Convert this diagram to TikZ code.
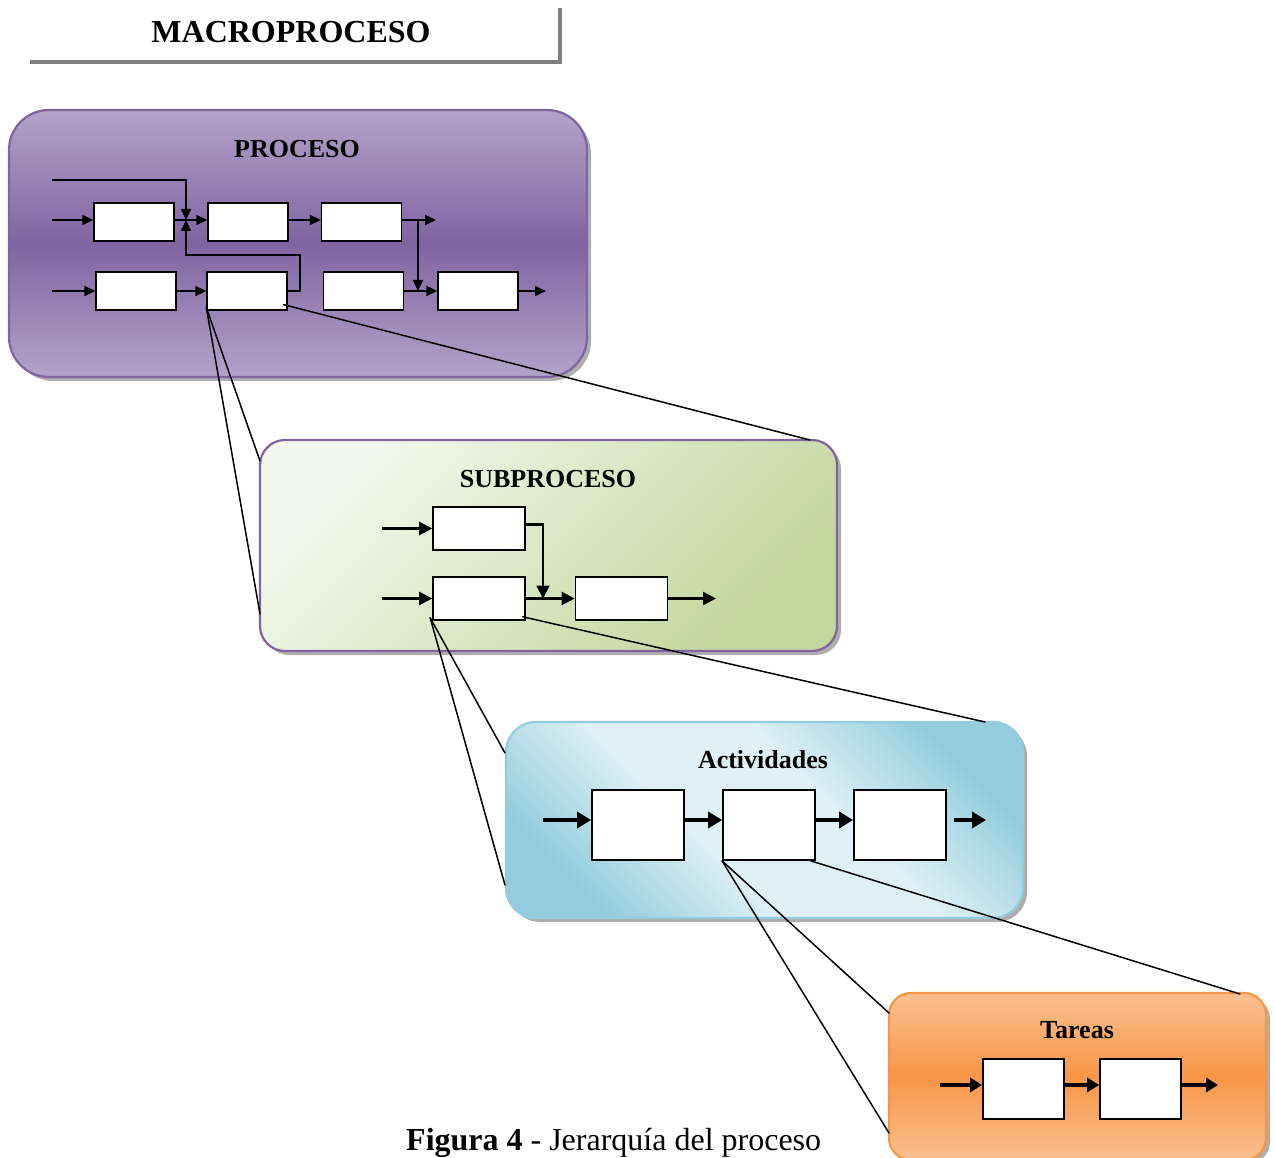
\documentclass[tikz,border=0pt]{standalone}
\usepackage{fontspec}
\setmainfont{Liberation Serif}
\usetikzlibrary{arrows.meta,shadows}

\definecolor{procdark}{HTML}{8064A2}
\definecolor{proclight}{HTML}{B3A3C9}
\definecolor{subtl}{HTML}{F4F7EE}
\definecolor{subbr}{HTML}{C3D69B}
\definecolor{actlight}{HTML}{DEF0F5}
\definecolor{actdark}{HTML}{93CDDD}
\definecolor{tarlight}{HTML}{FAC090}
\definecolor{tardark}{HTML}{F79646}
\definecolor{hdrgray}{HTML}{808080}

% broad light band across the activity panel
\pgfdeclareverticalshading{actshade}{100bp}{color(0bp)=(actdark); color(25bp)=(actdark);
  color(42bp)=(actlight); color(58bp)=(actlight); color(75bp)=(actdark); color(100bp)=(actdark)}

\begin{document}
\begin{tikzpicture}[x=1pt,y=-1pt,
  container/.style={line width=2.2pt, inner sep=0pt,
    drop shadow={shadow xshift=4pt,shadow yshift=-4pt,fill=black!45,opacity=0.7}},
  bigtitle/.style={font=\fontsize{32}{38}\selectfont\bfseries, inner sep=0pt},
  boxtitle/.style={font=\fontsize{26}{31}\selectfont\bfseries, inner sep=0pt},
  wbox/.style={draw=black, fill=white, inner sep=0pt},
  pbox/.style={wbox, line width=1.3pt, minimum width=80pt, minimum height=38pt},
  sbox/.style={wbox, line width=1.6pt, minimum width=92pt, minimum height=43pt},
  abox/.style={wbox, line width=1.8pt, minimum width=92pt, minimum height=70pt},
  tbox/.style={wbox, line width=1.8pt, minimum width=81pt, minimum height=60pt},
  parr/.style={line width=1.7pt, -{Triangle[length=11pt,width=10pt]}},
  sarr/.style={line width=2.4pt, -{Triangle[length=13pt,width=13pt]}},
  aarr/.style={line width=3.6pt, -{Triangle[length=14pt,width=16pt]}},
  tarr/.style={line width=3.2pt, -{Triangle[length=12pt,width=14pt]}},
  conn/.style={line width=1.5pt, line cap=round}
]
\useasboundingbox (0,0) rectangle (1275,1158);

% ---------- header ----------
\node[bigtitle, anchor=base] (macro) at (291,43) {MACROPROCESO};
\draw[hdrgray, line width=4pt] (30,62) -- (560,62) -- (560,8);

% ---------- process level ----------
\node[container, shade, rounded corners=40pt, draw=procdark,
      top color=proclight, bottom color=proclight, middle color=procdark,
      minimum width=578pt, minimum height=267pt] (proc) at (298,243.5) {};
\node[boxtitle, anchor=base] (proctitle) at (297,158) {PROCESO};

\node[pbox] (A) at (134,222) {};
\node[pbox] (B) at (248,222) {};
\node[pbox] (C) at (361.5,222) {};
\node[pbox] (D) at (136,291) {};
\node[pbox] (E) at (247,291) {};
\node[pbox] (F) at (363.5,291) {};
\node[pbox] (G) at (478,291) {};

\coordinate (inA) at (52,220);
\coordinate (inTop) at (52,180);
\coordinate (J) at (186,220);
\coordinate (loop) at (300,255);
\coordinate (outC) at (436,220);
\coordinate (V1) at (418,220);
\coordinate (V2) at (418,291);
\coordinate (inD) at (52,291);
\coordinate (outG) at (546,291);

\draw[parr] (inA) -- (A.west |- inA);
\draw[parr] (A.east |- J) -- (B.west |- J);
\draw[parr] (inTop) -| (J);
\draw[parr] (E.east) -| (loop) -| (J);
\draw[parr] (B.east |- J) -- (C.west |- J);
\draw[parr] (C.east |- outC) -- (outC);
\draw[parr] (V1) -- (V2);
\draw[parr] (inD) -- (D.west);
\draw[parr] (D.east) -- (E.west);
\draw[parr] (F.east) -- (G.west);
\draw[parr] (G.east) -- (outG);

% ---------- subprocess level ----------
\node[container, shade, rounded corners=25pt, draw=procdark,
      top color=subtl, bottom color=subbr, shading angle=45,
      minimum width=577pt, minimum height=211pt] (sub) at (548.5,545.5) {};
\node[boxtitle, anchor=base] (subtitle) at (548,487) {SUBPROCESO};

\node[sbox] (H) at (479,528.5) {};
\node[sbox] (I) at (479,598.5) {};
\node[sbox] (K3) at (621.5,598.5) {};

\coordinate (inH) at (382,528.5);
\coordinate (inI) at (382,598.5);
\coordinate (SJ) at (543,598.5);
\coordinate (outK3) at (716,598.5);

\draw[sarr] (inH) -- (H.west);
\draw[sarr] (inI) -- (I.west);
\draw[sarr] ([yshift=4pt]H.east) -| (SJ);
\draw[sarr] (I.east) -- (K3.west);
\draw[sarr] (K3.east) -- (outK3);

% ---------- activity level ----------
\node[container, shading=actshade, shading angle=-45, rounded corners=30pt, draw=actdark,
      minimum width=517pt, minimum height=196pt] (act) at (764.5,820) {};
\node[boxtitle, anchor=base] (acttitle) at (763,768) {Actividades};

\node[abox] (P) at (638,825) {};
\node[abox] (Q) at (769,825) {};
\node[abox] (R) at (900,825) {};

\coordinate (inP) at (543,820);
\coordinate (outR) at (986,820);

\draw[aarr] (inP) -- (P.west |- inP);
\draw[aarr] (P.east |- inP) -- (Q.west |- inP);
\draw[aarr] (Q.east |- inP) -- (R.west |- inP);
\draw[aarr] ([xshift=7pt]R.east |- outR) -- (outR);

% ---------- task level ----------
\node[container, shade, rounded corners=22pt, draw=tardark,
      top color=tarlight, bottom color=tarlight, middle color=tardark,
      minimum width=377pt, minimum height=167pt] (tar) at (1077.5,1076.5) {};
\node[boxtitle, anchor=base] (tartitle) at (1077,1038) {Tareas};

\node[tbox] (T1) at (1023.5,1089) {};
\node[tbox] (T2) at (1140.5,1089) {};

\coordinate (inT) at (940,1085);
\coordinate (outT) at (1218,1085);

\draw[tarr] (inT) -- (T1.west |- inT);
\draw[tarr] (T1.east |- inT) -- (T2.west |- inT);
\draw[tarr] (T2.east |- outT) -- (outT);

% ---------- zoom connectors between levels ----------
\coordinate (s1) at (260,461);
\coordinate (s2) at (260,614);
\coordinate (s3) at (810,440);
\coordinate (a1) at (505,753);
\coordinate (a2) at (505,885);
\coordinate (a3) at (985,722);
\coordinate (t1) at (889,1013);
\coordinate (t2) at (889,1133);
\coordinate (t3) at (1240,994);

\draw[conn] ([shift={(0pt,3pt)}]E.south west) -- (s1);
\draw[conn] ([shift={(0pt,3pt)}]E.south west) -- (s2);
\draw[conn] ([shift={(-4pt,6pt)}]E.south east) -- (s3);

\draw[conn] ([shift={(-2pt,3pt)}]I.south west) -- (a1);
\draw[conn] ([shift={(-2pt,3pt)}]I.south west) -- (a2);
\draw[conn] ([shift={(-3pt,4pt)}]I.south east) -- (a3);

\draw[conn] (Q.south west) -- (t1);
\draw[conn] (Q.south west) -- (t2);
\draw[conn] ([xshift=-5pt]Q.south east) -- (t3);

% ---------- caption ----------
\node[anchor=base west, inner sep=0pt, font=\fontsize{32}{38}\selectfont] (caption)
  at (406,1150) {\textbf{Figura 4} - Jerarquía del proceso};
\end{tikzpicture}
\end{document}
